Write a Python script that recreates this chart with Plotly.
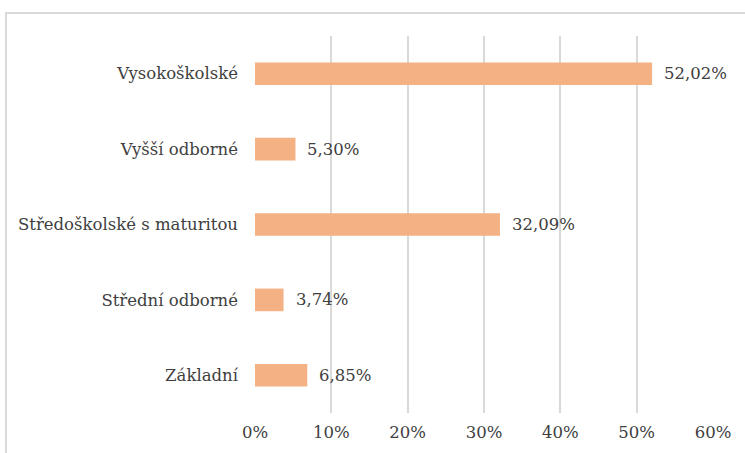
import plotly.graph_objects as go

categories = ["Základní", "Střední odborné", "Středoškolské s maturitou", "Vyšší odborné", "Vysokoškolské"]
values = [6.85, 3.74, 32.09, 5.30, 52.02]
tick_vals = [0, 10, 20, 30, 40, 50, 60]
tick_labels = ["0%", "10%", "20%", "30%", "40%", "50%", "60%"]

FONT = "DejaVu Serif"
TXT = "#404040"
FS = 16.5

fig = go.Figure()
fig.add_trace(go.Bar(
    y=categories, x=values, orientation="h",
    marker=dict(color="#F4B183", line=dict(width=0)),
    width=0.3,
    hoverinfo="skip",
))

for c, v in zip(categories, values):
    fig.add_annotation(
        x=v, y=c, xref="x", yref="y",
        text=f"{v:.2f}%".replace(".", ","),
        showarrow=False, xanchor="left", xshift=10,
        font=dict(family=FONT, size=FS, color=TXT),
    )

fig.add_shape(type="rect", xref="paper", yref="paper",
              x0=-0.5437, x1=1.2, y0=-0.3, y1=1.061,
              line=dict(color="#D9D9D9", width=2), fillcolor="rgba(0,0,0,0)")

fig.update_layout(
    width=745, height=453,
    margin=dict(l=255, r=32, t=36, b=40, autoexpand=False),
    paper_bgcolor="white", plot_bgcolor="white",
    showlegend=False,
    font=dict(family=FONT, size=FS, color=TXT),
    xaxis=dict(range=[0, 60], tickmode="array", tickvals=tick_vals, ticktext=tick_labels,
               showgrid=True, gridcolor="#D9D9D9", gridwidth=1.5,
               zeroline=False, showline=False, ticks="", automargin=False,
               ticklabelstandoff=7,
               tickfont=dict(family=FONT, size=FS, color=TXT), fixedrange=True),
    yaxis=dict(categoryorder="array", categoryarray=categories,
               showgrid=False, zeroline=False, showline=False, ticks="",
               ticklabelstandoff=16, automargin=False,
               tickfont=dict(family=FONT, size=FS, color=TXT), fixedrange=True),
)

fig.write_html("out.html", config={"displayModeBar": False},
               post_script="document.body.style.margin='0';")
